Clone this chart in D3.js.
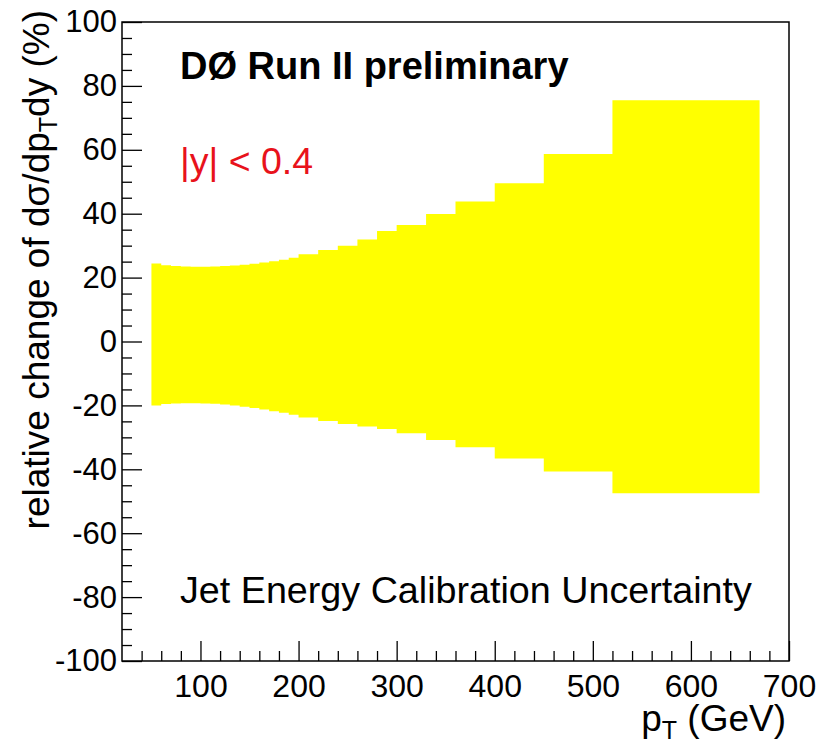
<!DOCTYPE html>
<html>
<head>
<meta charset="utf-8">
<script src="https://cdn.jsdelivr.net/npm/d3@7"></script>
<style>
  body { margin: 0; background: #fff; }
  text { font-family: "Liberation Sans", Arial, Helvetica, sans-serif; }
</style>
</head>
<body>
<script>
// JES uncertainty band, |y| < 0.4

// bin edges in pT (GeV) and the band edges (%) per bin
var binEdges = [50,60,70,80,90,100,110,120,130,140,150,160,170,180,190,
                200,220,240,260,280,300,330,360,400,450,520,670];
var upperPct = [24.4,23.9,23.6,23.5,23.4,23.4,23.5,23.6,23.8,24.0,24.3,24.7,25.1,25.6,26.2,
                27.3,28.6,30.0,31.9,34.6,36.5,39.9,43.8,49.5,58.7,75.5];
var lowerPct = [-20.0,-19.6,-19.4,-19.3,-19.3,-19.4,-19.5,-19.7,-20.0,-20.4,-20.8,-21.3,-21.8,-22.3,-22.9,
                -23.8,-24.9,-25.8,-26.6,-27.4,-28.7,-30.8,-33.1,-36.6,-40.7,-47.5];

var xMajor = [100,200,300,400,500,600,700];
var yMajor = [-100,-80,-60,-40,-20,0,20,40,60,80,100];

var outerWidth = 830,
    outerHeight = 745,
    margin = {left:122,right:41,top:22,bottom:84},
    innerWidth = outerWidth-margin.left-margin.right,
    innerHeight = outerHeight-margin.top-margin.bottom;

var svg = d3.select('body').append('svg')
  .attr('width',outerWidth)
  .attr('height',outerHeight);

var g = svg.append('g')
  .attr('transform','translate('+margin.left+','+margin.top+')');

var xScale = d3.scaleLinear().domain([20,700]).range([0,innerWidth]);
var yScale = d3.scaleLinear().domain([-100,100]).range([innerHeight,0]);

// step band
var pts = binEdges.map(function(e,i){
  var k = Math.min(i,upperPct.length-1);
  return {x:e, up:upperPct[k], dn:lowerPct[k]};
});

var area = d3.area()
  .curve(d3.curveStepAfter)
  .x(function(d){return xScale(d.x);})
  .y0(function(d){return yScale(d.dn);})
  .y1(function(d){return yScale(d.up);});

g.append('path')
  .datum(pts)
  .attr('d',area)
  .attr('fill','#ffff00')
  .attr('stroke','none');

// minor ticks
var xMinor = d3.range(40,701,20).filter(function(v){return v%100!==0;});
var yMinor = d3.range(-95,100,5).filter(function(v){return v%20!==0;});

g.append('g')
  .attr('transform','translate(0,'+innerHeight+')')
  .call(d3.axisBottom(xScale).tickValues(xMinor).tickSize(-10).tickFormat(''))
  .call(function(a){a.select('.domain').remove();});

g.append('g')
  .call(d3.axisLeft(yScale).tickValues(yMinor).tickSize(-10).tickFormat(''))
  .call(function(a){a.select('.domain').remove();});

// major ticks + labels (plain hyphen for minus, like the original)
var plain = function(d){return String(d);};

var xAxis = g.append('g')
  .attr('transform','translate(0,'+innerHeight+')')
  .call(d3.axisBottom(xScale).tickValues(xMajor).tickSize(-20).tickPadding(13).tickFormat(plain));
xAxis.select('.domain').remove();
xAxis.selectAll('text').attr('font-size',32).attr('fill','#000');

var yAxis = g.append('g')
  .call(d3.axisLeft(yScale).tickValues(yMajor).tickSize(-20).tickPadding(5).tickFormat(plain));
yAxis.select('.domain').remove();
yAxis.selectAll('text').attr('font-size',31).attr('fill','#000');

svg.selectAll('.tick line').attr('stroke','#000').attr('stroke-width',1.3);

// frame
g.append('rect')
  .attr('width',innerWidth)
  .attr('height',innerHeight)
  .attr('fill','none')
  .attr('stroke','#000')
  .attr('stroke-width',1.5);

// axis titles
var xt = svg.append('text')
  .attr('x',786).attr('y',731)
  .attr('text-anchor','end')
  .attr('font-size',37);
xt.append('tspan').text('p');
xt.append('tspan').attr('font-size',25).attr('dy',8).text('T');
xt.append('tspan').attr('dy',-8).text(' (GeV)');

var yt = svg.append('text')
  .attr('transform','translate(49,10) rotate(-90)')
  .attr('text-anchor','end')
  .attr('font-size',37);
yt.append('tspan').text('relative change of d\u03c3/dp');
yt.append('tspan').attr('font-size',25).attr('dy',8).text('T');
yt.append('tspan').attr('dy',-8).text('dy (%)');

// labels in the pad
svg.append('text')
  .attr('x',180).attr('y',79)
  .attr('font-size',38).attr('font-weight','bold')
  .text('D\u00d8 Run II preliminary');

svg.append('text')
  .attr('x',180).attr('y',174)
  .attr('font-size',37.5).attr('fill','#e8121b')
  .text('|y| < 0.4');

svg.append('text')
  .attr('x',180).attr('y',603)
  .attr('font-size',37.7)
  .text('Jet Energy Calibration Uncertainty');
</script>
</body>
</html>
